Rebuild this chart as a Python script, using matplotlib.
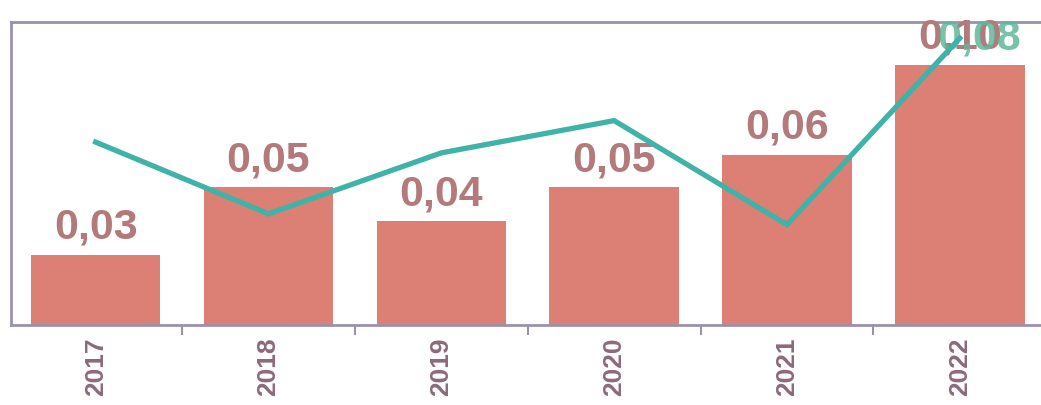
import matplotlib
matplotlib.use("Agg")
import matplotlib.pyplot as plt
import numpy as np

plt.rcParams['font.family'] = ['Liberation Sans', 'DejaVu Sans']

years = ["2017", "2018", "2019", "2020", "2021", "2022"]
bar_values = [0.027, 0.053, 0.040, 0.053, 0.0655, 0.100]
bar_labels = ["0,03", "0,05", "0,04", "0,05", "0,06", "0,10"]
line_values = [0.051, 0.031, 0.048, 0.057, 0.028, 0.080]
line_last_label = "0,08"

bar_color = "#dc7f74"
label_color = "#b37a7c"
line_color = "#3fb3a8"
spine_color = "#9a90b0"
tick_label_color = "#8b6a7c"

fig = plt.figure(figsize=(10.41, 4.05), dpi=100)
ax = fig.add_axes([11/1041, 1-325/405, 1030/1041, 303/405])
x = np.arange(len(years))
ax.bar(x, bar_values, width=0.75, color=bar_color, zorder=2)
ax.set_xlim(-0.49, 5.47)
ax.set_ylim(0, 0.1165)

for xi, v, lab in zip(x, bar_values, bar_labels):
    ax.annotate(lab, (xi, v), xytext=(0, 5), textcoords="offset points",
                ha="center", va="bottom", fontsize=31, fontweight="bold",
                color=label_color, zorder=5)

ax2 = ax.twinx()
ax2.set_ylim(0, 0.0845)
ax2.plot(x, line_values, color=line_color, lw=3.8, zorder=4, solid_joinstyle="miter")
ax2.annotate(line_last_label, (x[-1], line_values[-1]), xytext=(14, -15),
             textcoords="offset points", ha="center", va="bottom", fontsize=31,
             fontweight="bold", color="#5fb89a", alpha=0.85, zorder=3)
ax2.axis("off")

ax.set_yticks([])
ax.set_xticks(x)
ax.set_xticklabels(years, rotation=90, fontsize=19, fontweight="bold", color=tick_label_color)
ax.tick_params(axis="x", which="major", length=0, pad=9)
ax.set_xticks(x[:-1] + 0.5, minor=True)
ax.tick_params(axis="x", which="minor", length=7, width=1.5, color=spine_color, direction="out")
for s in ["left", "top", "bottom"]:
    ax.spines[s].set_color(spine_color)
    ax.spines[s].set_linewidth(2)
ax.spines["right"].set_visible(False)

fig.savefig("out.png", dpi=100)
